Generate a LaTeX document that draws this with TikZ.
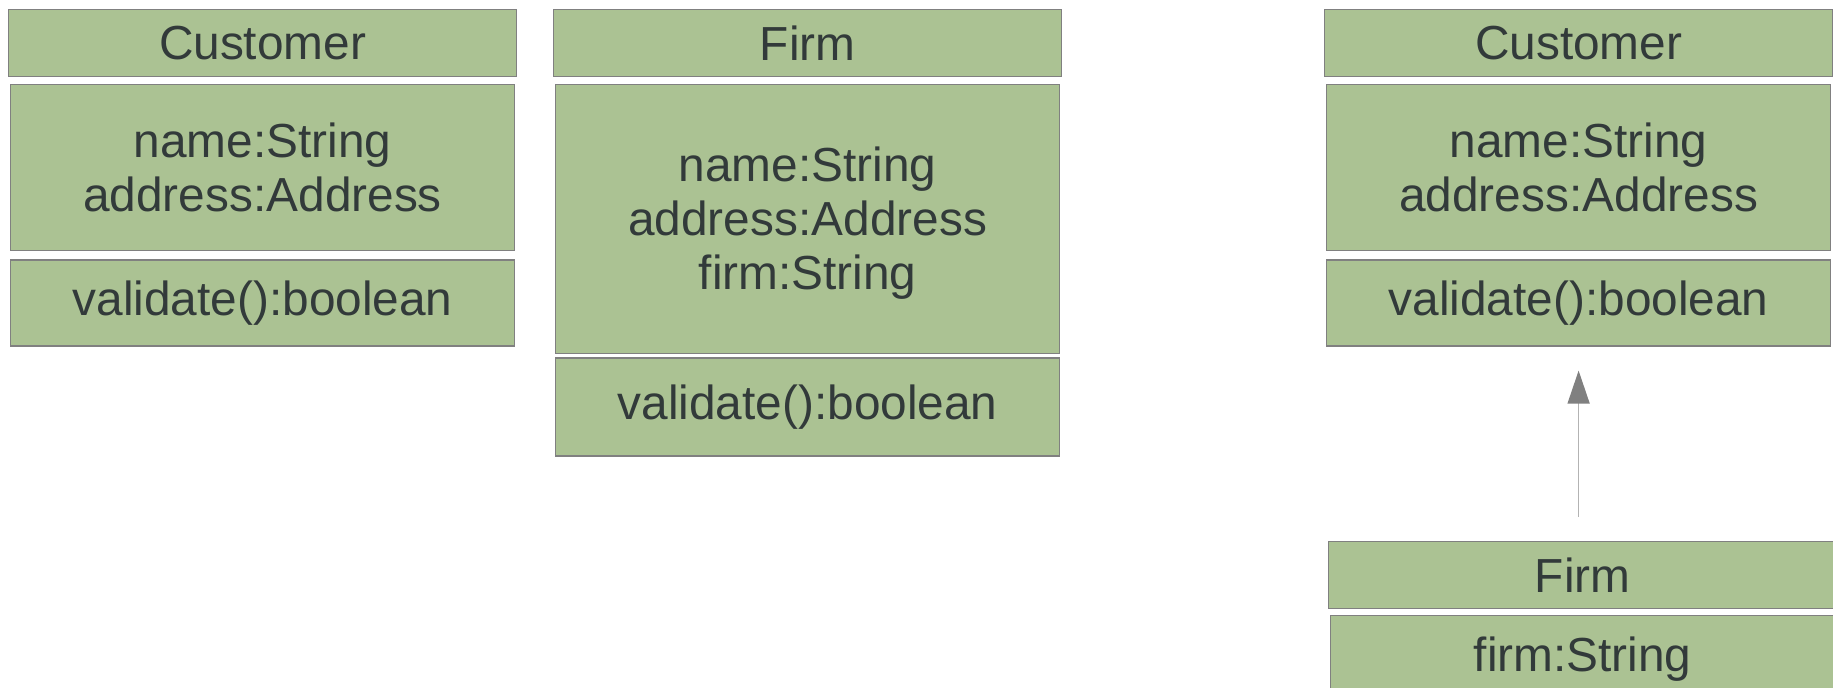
\documentclass[tikz,border=0pt]{standalone}
\usepackage{fontspec}
\setmainfont{Liberation Sans}
\usetikzlibrary{positioning,arrows.meta}
\definecolor{umlfill}{RGB}{171,194,147}
\definecolor{umlline}{RGB}{128,128,128}
\definecolor{umltext}{RGB}{50,58,58}
\definecolor{umlarrow}{RGB}{179,179,179}
\newcommand\BoxW{254pt}
\newcommand\PartW{252pt}
\newcommand\UmlFont{\fontsize{23.9}{27}\selectfont}
\tikzset{
  umlbox/.style={
    draw = umlline,
    fill = umlfill,
    line width = 0.6pt,
    text = umltext,
    font = \UmlFont,
    align = center,
    inner sep = 0pt
  },
  umlhead/.style={
    umlbox,
    minimum width = \BoxW,
    minimum height = 33.5pt,
    anchor = north west
  },
  umlpart/.style={
    umlbox,
    minimum width = \PartW
  },
  inherit/.style={
    draw = umlarrow,
    line width = 0.75pt,
    -{Triangle[length=16.5pt,width=11pt,color=umlline]},
    shorten <= 12pt,
    shorten >= 12pt
  }
}

\begin{document}
\begin{tikzpicture}[x=0.5pt,y=-0.5pt]
    \useasboundingbox (0,0) rectangle (1833,687);

    % two separate classes
    \node[umlhead] (cust) at (8,9) {Customer};
    \node[umlpart, minimum height=83pt, below=3.5pt of cust] (custattr) {name:String\\address:Address};
    \node[umlpart, minimum height=43pt, below=4pt of custattr] (custmeth) {validate():boolean};

    \node[umlhead] (firm) at (553,9) {Firm};
    \node[umlpart, minimum height=134.5pt, below=3.5pt of firm] (firmattr) {\rule{0pt}{21pt}name:String\\address:Address\\firm:String};
    \node[umlpart, minimum height=49pt, below=1.5pt of firmattr] (firmmeth) {validate():boolean};

    % Firm as subclass of Customer
    \node[umlhead] (base) at (1324,9) {Customer};
    \node[umlpart, minimum height=83pt, below=3.5pt of base] (baseattr) {name:String\\address:Address};
    \node[umlpart, minimum height=43pt, below=4pt of baseattr] (basemeth) {validate():boolean};

    \node[umlhead] (sub) at (1328,541) {Firm};
    \node[umlpart, minimum height=43pt, below=3pt of sub] (subattr) {firm:String};

    \draw[inherit] (sub.north -| basemeth.south) -- (basemeth.south);
\end{tikzpicture}
\end{document}
